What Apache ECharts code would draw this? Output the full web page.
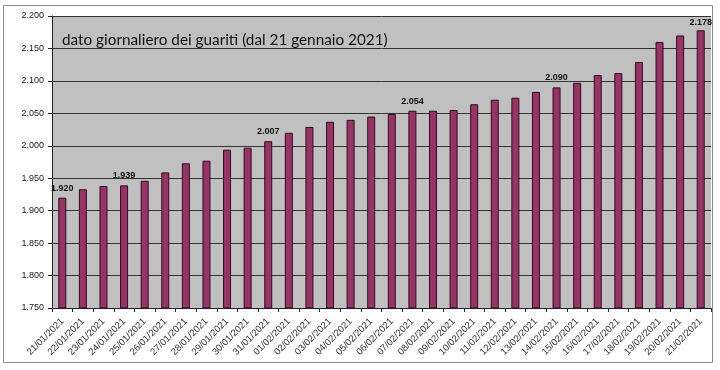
<!DOCTYPE html>
<html>
<head>
<meta charset="utf-8">
<script src="https://cdn.jsdelivr.net/npm/echarts@6/dist/echarts.min.js"></script>
<style>html,body{margin:0;padding:0;background:#fff}#c{width:720px;height:370px}</style>
</head>
<body>
<div id="c"></div>
<script>
const categories = ['21/01/2021','22/01/2021','23/01/2021','24/01/2021','25/01/2021','26/01/2021','27/01/2021','28/01/2021','29/01/2021','30/01/2021','31/01/2021',
'01/02/2021','02/02/2021','03/02/2021','04/02/2021','05/02/2021','06/02/2021','07/02/2021','08/02/2021','09/02/2021','10/02/2021','11/02/2021','12/02/2021','13/02/2021','14/02/2021','15/02/2021','16/02/2021','17/02/2021','18/02/2021','19/02/2021','20/02/2021','21/02/2021'];
const guariti = [1920,1933,1938,1939,1946,1959,1973,1977,1994,1997,2007,2020,2029,2037,2040,2045,2049,2054,2054,2055,2064,2071,2074,2083,2090,2097,2109,2112,2129,2160,2170,2178];
const labelledIdx = [0,3,10,17,24,31];
const yTicks = [1750,1800,1850,1900,1950,2000,2050,2100,2150,2200];
const titleText = 'dato giornaliero dei guariti (dal 21 gennaio 2021)';

function fmt(n){ return Math.floor(n/1000)+'.'+String(Math.round(n)%1000).padStart(3,'0'); }

const chart = echarts.init(document.getElementById('c'), null, {renderer:'canvas'});
chart.setOption({
  animation:false,
  backgroundColor:'#fff',
  graphic:[
    {type:'rect', shape:{x:3.5,y:5.5,width:709,height:357}, style:{fill:'none', stroke:'#8a8a8a', lineWidth:1}, z:-1},
    {type:'text', left:62, top:33, style:{text:titleText, font:'15.3px Lato, "Open Sans", sans-serif', fill:'#111'}, z:10}
  ],
  grid:{left:52, right:9, top:16, bottom:62, backgroundColor:'#c0c0c0', show:true, borderWidth:0},
  xAxis:{
    type:'category', data:categories, boundaryGap:true,
    axisLine:{show:true, lineStyle:{color:'#222', width:1}},
    axisTick:{show:true, length:4, lineStyle:{color:'#222'}},
    axisLabel:{rotate:45, fontSize:9.5, color:'#333', margin:12, fontFamily:'"Liberation Sans", Arial, sans-serif', interval:0}
  },
  yAxis:{
    type:'value', min:yTicks[0], max:yTicks[yTicks.length-1], interval:50,
    axisLine:{show:true, lineStyle:{color:'#222'}},
    axisTick:{show:true, length:4, lineStyle:{color:'#222'}},
    axisLabel:{fontSize:9, color:'#222', margin:8, formatter:v=>fmt(v), fontFamily:'"Liberation Sans", Arial, sans-serif'},
    splitLine:{show:true, lineStyle:{color:'#333', width:1}}
  },
  series:[{
    type:'bar', barWidth:8,
    data:guariti.map((v,i)=>({
      value:v,
      label:{show:labelledIdx.includes(i), position:'top', distance:i===31?3:5, formatter:p=>fmt(p.value), fontSize:9, fontWeight:'bold', color:'#111', fontFamily:'"Liberation Sans", Arial, sans-serif'}
    })),
    itemStyle:{color:'#993366', borderColor:'#2a0f1d', borderWidth:1}
  }]
});
</script>
</body>
</html>
